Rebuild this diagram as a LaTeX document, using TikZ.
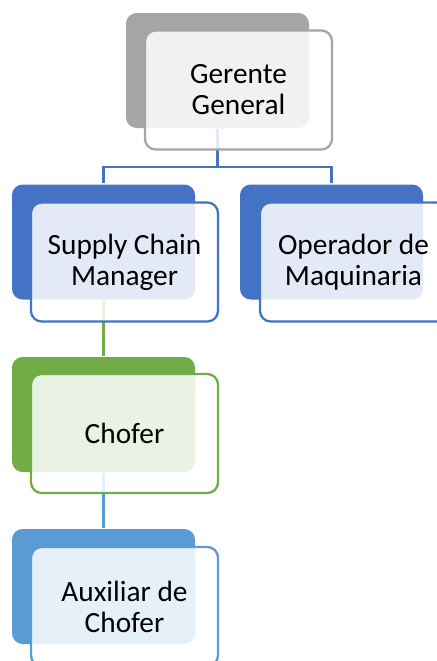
\documentclass[tikz,border=0pt]{standalone}
\usepackage{fontspec}
\setmainfont{Carlito}
\usepackage{tikz}
\definecolor{grayA}{HTML}{A5A5A5}
\definecolor{blueA}{HTML}{4472C4}
\definecolor{greenA}{HTML}{70AD47}
\definecolor{blueB}{HTML}{5B9BD5}
\tikzset{
    every node/.style={rectangle, rounded corners=8pt, line width=1.7pt,
    	font=\fontsize{22}{23.2}\selectfont, align=center}
}
\tikzset{
    backbox/.style={fill=#1, draw=none, minimum width=137.25pt, minimum height=86.25pt},
    frontbox/.style={draw=#1, fill=white, fill opacity=0.85, text opacity=1,
    	minimum width=140.25pt, minimum height=89.25pt}
}
\pgfdeclarelayer{background}
\pgfsetlayers{background,main}

\begin{document}
\begin{tikzpicture}[x=0.75pt, y=-0.75pt]
  \useasboundingbox (0,0) rectangle (436,661);

  \node (gg) [backbox=grayA] at (217.5,70.5) {};
  \node (scm) [backbox=blueA] at (103.5,242) {};
  \node (opm) [backbox=blueA] at (331.5,242) {};
  \node (cho) [backbox=greenA] at (103.5,414.5) {};
  \node (aux) [backbox=blueB] at (103.5,586.5) {};

  \node (ggt) [frontbox=grayA] at (238.5,90) {Gerente\\General};
  \node (scmt) [frontbox=blueA] at (124.5,262) {Supply Chain\\Manager};
  \node (opmt) [frontbox=blueA] at (353.5,262) {Operador de\\Maquinaria};
  \node (chot) [frontbox=greenA] at (124.5,433.5) {Chofer};
  \node (auxt) [frontbox=blueB] at (124.5,606.5) {Auxiliar de\\Chofer};

  \begin{pgfonlayer}{background}
  \draw [blueA, line width=1.7pt] (gg.south) -- ++(0,38) -| (scm.north);
  \draw [blueA, line width=1.7pt] (gg.south) -- ++(0,38) -| (opm.north);
  \draw [greenA, line width=1.7pt] (scm.south) -- (cho.north);
  \draw [blueB, line width=1.7pt] (cho.south) -- (aux.north);
  \end{pgfonlayer}
\end{tikzpicture}
\end{document}
